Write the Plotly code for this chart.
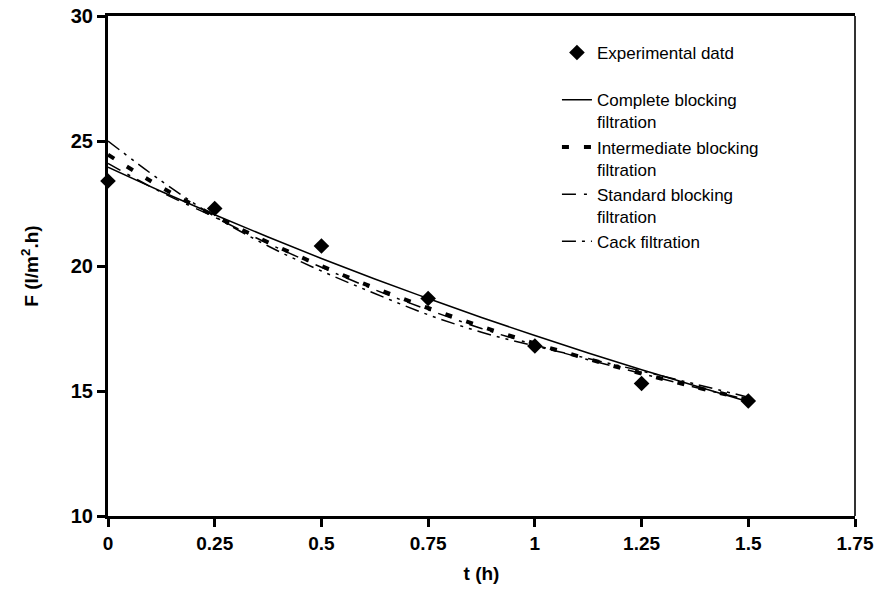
import plotly.graph_objects as go

# Experimental data
t_exp = [0, 0.25, 0.5, 0.75, 1.0, 1.25, 1.5]
f_exp = [23.4, 22.3, 20.8, 18.7, 16.8, 15.3, 14.6]

# Model curves
t_model = [0, 0.125, 0.25, 0.375, 0.5, 0.625, 0.75, 0.875, 1.0, 1.125, 1.25, 1.375, 1.5]
complete = [23.95, 22.98, 22.05, 21.16, 20.30, 19.48, 18.70, 17.94, 17.22, 16.52, 15.85, 15.21, 14.57]
intermediate = [24.45, 23.15, 22.0, 20.95, 20.0, 19.12, 18.32, 17.58, 16.9, 16.28, 15.7, 15.16, 14.65]
standard = [24.1, 22.95, 21.95, 20.9, 19.95, 19.05, 18.25, 17.5, 16.85, 16.25, 15.7, 15.15, 14.65]
cake = [25.0, 23.4, 21.98, 20.8, 19.8, 18.9, 18.05, 17.35, 16.8, 16.3, 15.8, 15.28, 14.75]

x_ticks = [0, 0.25, 0.5, 0.75, 1, 1.25, 1.5, 1.75]
y_ticks = [10, 15, 20, 25, 30]

FONT = "Liberation Sans, Arial, sans-serif"

fig = go.Figure()
fig.add_trace(go.Scatter(x=t_model, y=complete, mode="lines", line_shape="spline",
                         name="Complete blocking<br>filtration", legendrank=2,
                         line=dict(color="black", width=1.5)))
fig.add_trace(go.Scatter(x=t_model, y=intermediate, mode="lines", line_shape="spline",
                         name="Intermediate blocking<br>filtration", legendrank=3,
                         line=dict(color="black", width=4, dash="7px,15px")))
fig.add_trace(go.Scatter(x=t_model, y=standard, mode="lines", line_shape="spline",
                         name="Standard blocking<br>filtration", legendrank=4,
                         line=dict(color="black", width=1.5, dash="14px,8px,3px,8px")))
fig.add_trace(go.Scatter(x=t_model, y=cake, mode="lines", line_shape="spline",
                         name="Cack filtration", legendrank=5,
                         line=dict(color="black", width=1.5, dash="14px,6px,3px,6px,3px,6px")))
fig.add_trace(go.Scatter(x=t_exp, y=f_exp, mode="markers", cliponaxis=False,
                         name="Experimental datd<br>\u00a0", legendrank=1,
                         marker=dict(symbol="diamond", size=12, color="black")))

fig.update_layout(
    width=883, height=594,
    margin=dict(l=108, r=28, t=16, b=78, autoexpand=False),
    paper_bgcolor="white", plot_bgcolor="white",
    font=dict(family=FONT, color="black"),
    showlegend=True,
    legend=dict(x=0.601, y=0.962, xanchor="left", yanchor="top",
                valign="top", bgcolor="rgba(0,0,0,0)",
                font=dict(family=FONT, size=17, color="black")),
    xaxis=dict(range=[0, 1.75], tickvals=x_ticks, ticktext=[str(v) for v in x_ticks],
               automargin=False, ticklabeloverflow="allow",
               showgrid=False, zeroline=False, showline=True, linewidth=3, linecolor="black",
               mirror=True, ticks="outside", ticklen=8, tickwidth=3, tickcolor="black",
               tickfont=dict(family=FONT, size=19, color="black", weight="bold"),
               title=dict(text="<b>t (h)</b>", font=dict(family=FONT, size=19, color="black"),
                          standoff=14)),
    yaxis=dict(range=[10, 30], tickvals=y_ticks, automargin=False, ticklabeloverflow="allow",
               showgrid=False, zeroline=False, showline=True, linewidth=3, linecolor="black",
               mirror=False, ticks="outside", ticklen=8, tickwidth=3, tickcolor="black",
               tickfont=dict(family=FONT, size=20, color="black", weight="bold"),
               title=dict(text="<b>F (l/m<sup>2</sup>.h)</b>",
                          font=dict(family=FONT, size=19, color="black"), standoff=28)),
    shapes=[dict(type="line", xref="paper", yref="paper", x0=1, x1=1, y0=0, y1=1,
                 line=dict(color="#333333", width=2))],
)

# remove the page's default body margin so the figure fills the window exactly
fig.write_html("out.html", config={"displayModeBar": False},
               post_script="document.body.style.margin='0';")
